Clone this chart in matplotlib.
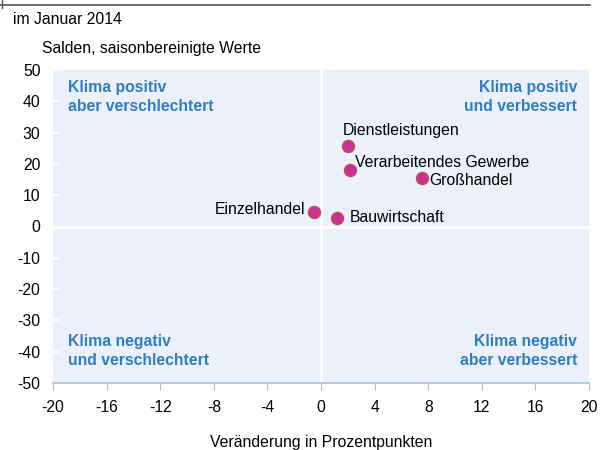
import matplotlib.pyplot as plt
from matplotlib.lines import Line2D

plt.rcParams['font.family'] = ['Liberation Sans', 'DejaVu Sans']

# data: change in percentage points (x), balance (y)
sectors = ['Dienstleistungen', 'Verarbeitendes Gewerbe', 'Großhandel',
           'Einzelhandel', 'Bauwirtschaft']
change = [2.0, 2.2, 7.5, -0.5, 1.2]
balance = [25.8, 17.9, 15.5, 4.5, 2.7]

x_ticks = [-20, -16, -12, -8, -4, 0, 4, 8, 12, 16, 20]
y_ticks = [-50, -40, -30, -20, -10, 0, 10, 20, 30, 40, 50]

# label offsets in pixels (dx, dy, ha)
label_pos = {
    'Dienstleistungen': (-5, 15, 'left'),
    'Verarbeitendes Gewerbe': (5, 8, 'left'),
    'Großhandel': (8, -3, 'left'),
    'Einzelhandel': (-9, 3, 'right'),
    'Bauwirtschaft': (13, 1, 'left'),
}

blue = '#2E7EC1'
bg = '#EBF0FB'
fs = 11.3

fig = plt.figure(figsize=(6.05, 4.5), dpi=100)
ax = fig.add_axes([53/605, 1 - 383/450, 536/605, 313/450])
ax.set_facecolor(bg)

ax.set_xlim(-20, 20)
ax.set_ylim(-50, 50)
ax.set_xticks(x_ticks)
ax.set_yticks(y_ticks)
ax.set_xticklabels([str(t) for t in x_ticks])
ax.set_yticklabels([str(t) for t in y_ticks])

for s in ['top', 'right', 'left']:
    ax.spines[s].set_visible(False)
ax.spines['bottom'].set_color('#A9BEE0')
ax.spines['bottom'].set_linewidth(1.2)
ax.tick_params(axis='x', direction='out', length=5, color='#A9BEE0',
               labelsize=fs, pad=7)
ax.tick_params(axis='y', direction='in', length=4, color='white', width=1.5,
               labelsize=fs, pad=9)

ax.axvline(0, color='white', lw=2, zorder=1)
ax.axhline(0, color='white', lw=2, zorder=1)

ax.scatter(change, balance, s=75, color='#C8309A', edgecolors='#C0504D',
           linewidths=1.0, zorder=3)

for name, x, y in zip(sectors, change, balance):
    dx, dy, ha = label_pos[name]
    ax.annotate(name, (x, y), xytext=(dx, dy), textcoords='offset pixels',
                ha=ha, va='center', fontsize=fs, color='black')

qkw = dict(transform=ax.transAxes, color=blue, fontsize=fs,
           fontweight='bold', linespacing=1.33)
ax.text(0.028, 0.968, 'Klima positiv\naber verschlechtert', ha='left',
        va='top', **qkw)
ax.text(0.978, 0.968, 'Klima positiv\nund verbessert', ha='right',
        va='top', multialignment='right', **qkw)
ax.text(0.028, 0.047, 'Klima negativ\nund verschlechtert', ha='left',
        va='bottom', **qkw)
ax.text(0.978, 0.047, 'Klima negativ\naber verbessert', ha='right',
        va='bottom', multialignment='right', **qkw)

fig.text(13/605, 1 - 19/450, 'im Januar 2014', fontsize=fs,
         ha='left', va='center')
fig.text(42/605, 1 - 49/450, 'Salden, saisonbereinigte Werte', fontsize=fs,
         ha='left', va='center')
fig.text(321/605, 1 - 442/450, 'Veränderung in Prozentpunkten', fontsize=fs,
         ha='center', va='center')

# frame line at the top
fig.add_artist(Line2D([0, 590/605], [1 - 5/450, 1 - 5/450], color='#555555',
                      lw=1.2, transform=fig.transFigure))
fig.add_artist(Line2D([1.5/605, 1.5/605], [1, 1 - 8/450], color='#555555',
                      lw=1.0, transform=fig.transFigure))

fig.savefig('out.png', dpi=100)
